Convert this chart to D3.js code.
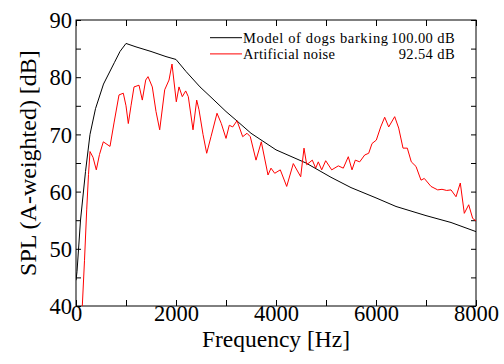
<!DOCTYPE html>
<html>
<head>
<meta charset="utf-8">
<script src="https://cdn.jsdelivr.net/npm/d3@7"></script>
<style>
  body { margin: 0; background: #fff; }
</style>
</head>
<body>
<div id="chart"></div>
<script>
// model of dogs barking (black)
var modelFreq = [0, 20, 90, 190, 280, 390, 550, 770, 880, 1000, 1200, 1500, 1800, 2000, 2200, 2480, 2700, 3000, 3200, 3500, 4000, 4600, 5100, 5500, 6000, 6400, 7000, 7500, 8000];
var modelDb = [44.5, 46, 55, 63.5, 70, 74.5, 78.8, 82.6, 84.5, 85.9, 85.3, 84.5, 83.6, 83.1, 81.0, 78.3, 76.5, 74.0, 72.5, 70.2, 67.3, 65.0, 62.5, 60.7, 58.9, 57.4, 55.8, 54.6, 53.0];

// artificial noise (red)
var noiseFreq = [126, 170, 214, 250, 280, 340, 406, 470, 546, 680, 760, 860, 946, 1000, 1046, 1100, 1160, 1260, 1326, 1394, 1440, 1526, 1600, 1674, 1774, 1860, 1920, 2006, 2060, 2126, 2194, 2246, 2340, 2414, 2460, 2540, 2614, 2700, 2820, 2906, 3000, 3066, 3134, 3220, 3334, 3420, 3486, 3600, 3706, 3840, 3900, 3974, 4086, 4214, 4346, 4494, 4560, 4614, 4726, 4794, 4846, 4914, 4994, 5114, 5246, 5346, 5446, 5520, 5586, 5674, 5774, 5854, 5920, 6006, 6094, 6174, 6254, 6374, 6454, 6540, 6626, 6706, 6800, 6900, 6966, 7100, 7234, 7320, 7414, 7500, 7600, 7686, 7766, 7854, 7934, 8000];
var noiseDb = [40, 48, 56.8, 63, 67.0, 66, 63.8, 66.5, 68.7, 67.9, 72, 76.9, 77.2, 75, 71.9, 75, 78.3, 78.6, 76.0, 79.5, 80.1, 78.3, 74, 70.8, 77.8, 79.5, 82.3, 75.7, 78.3, 76.6, 77.6, 76.6, 70.8, 76.0, 74.3, 70, 66.7, 69.6, 73.7, 71.9, 69.3, 71.6, 71.3, 72.4, 69.6, 70.2, 69.6, 65.5, 68.7, 62.9, 64.1, 63.2, 63.8, 60.9, 64.9, 62.6, 67.6, 64.7, 65.5, 64.1, 65.2, 63.8, 65.4, 63.8, 64.5, 64.1, 66.1, 63.8, 65.5, 65.2, 66.4, 66.7, 68.4, 69.0, 71.3, 73.0, 71.3, 73.1, 71.1, 67.6, 67.6, 65.2, 64.4, 62.0, 62.3, 60.9, 60.3, 60.4, 60.2, 60.3, 59.1, 61.5, 56.2, 57.7, 55.3, 54.9];

var xTicks = [0, 2000, 4000, 6000, 8000];
var xMinorTicks = [1000, 3000, 5000, 7000];
var yTicks = [40, 50, 60, 70, 80, 90];
var yMinorTicks = [45, 55, 65, 75, 85];

var legendLabels = ["Model of dogs barking", "Artificial noise"];
var legendValues = ["100.00 dB", "92.54 dB"];
var seriesColors = ["#000000", "#ff0000"];

var serif = "'Liberation Serif', 'Times New Roman', serif";

var margin = { top: 20, right: 28, bottom: 58, left: 76 },
  width = 504 - margin.left - margin.right,
  height = 364 - margin.top - margin.bottom;

var root = d3.select("#chart")
  .append("svg")
  .attr("width", 504)
  .attr("height", 364)
  .attr("font-family", serif);

var svg = root.append("g")
  .attr("transform", "translate(" + margin.left + "," + margin.top + ")");

var x = d3.scaleLinear().domain([0, 8000]).range([0, width]);
var y = d3.scaleLinear().domain([40, 90]).range([height, 0]);

svg.append("clipPath").attr("id", "plotclip")
  .append("rect").attr("width", width).attr("height", height);

// ticks, all pointing inward
function tickAxis(axis, vals, size, fmt) {
  return axis.tickValues(vals).tickSizeInner(-size).tickSizeOuter(0).tickPadding(3).tickFormat(fmt || "");
}

var gx = svg.append("g")
  .attr("transform", "translate(0," + height + ")")
  .call(tickAxis(d3.axisBottom(x), xTicks, 6, d3.format("d")));
svg.append("g")
  .attr("transform", "translate(0," + height + ")")
  .call(tickAxis(d3.axisBottom(x), xMinorTicks, 6));
svg.append("g").call(tickAxis(d3.axisTop(x), xTicks.concat(xMinorTicks), 6));

var gy = svg.append("g")
  .call(tickAxis(d3.axisLeft(y), yTicks, 5, d3.format("d")));
svg.append("g").call(tickAxis(d3.axisLeft(y), yMinorTicks, 5));
svg.append("g")
  .attr("transform", "translate(" + width + ",0)")
  .call(tickAxis(d3.axisRight(y), yTicks.concat(yMinorTicks), 5));

svg.selectAll(".domain").remove();
svg.selectAll("g").attr("font-family", serif);
svg.selectAll(".tick line").attr("stroke", "#000");
svg.selectAll(".tick text").attr("fill", "#000").style("font-family", serif);
gx.selectAll("text").style("font-size", "22.5px").attr("y", 0).attr("dy", "0.67em");
gy.selectAll("text").style("font-size", "22.5px").attr("dy", "0.34em").attr("x", -4);

svg.append("rect")
  .attr("width", width)
  .attr("height", height)
  .attr("fill", "none")
  .attr("stroke", "#000")
  .attr("stroke-width", 1);

var line = d3.line()
  .x(function (d) { return x(d[0]); })
  .y(function (d) { return y(d[1]); });

var series = [d3.zip(modelFreq, modelDb), d3.zip(noiseFreq, noiseDb)];

svg.append("g").attr("clip-path", "url(#plotclip)")
  .selectAll("path")
  .data(series)
  .enter()
  .append("path")
  .attr("d", line)
  .attr("fill", "none")
  .attr("stroke", function (d, i) { return seriesColors[i]; })
  .attr("stroke-width", 1);

// legend
var labelLen = [145, 92], valueLen = [63, 60];
var legend = svg.selectAll(".legend")
  .data(legendLabels)
  .enter()
  .append("g")
  .attr("class", "legend")
  .attr("transform", function (d, i) { return "translate(134," + (17.7 + i * 16.2) + ")"; });
legend.append("line")
  .attr("x1", 0).attr("x2", 32)
  .attr("stroke", function (d, i) { return seriesColors[i]; });
legend.append("text")
  .attr("x", 33).attr("y", 5)
  .attr("textLength", function (d, i) { return labelLen[i]; })
  .attr("lengthAdjust", "spacing")
  .style("font-family", serif)
  .style("font-size", "14.5px")
  .text(function (d) { return d; });
legend.append("text")
  .attr("x", 245).attr("y", 5)
  .attr("text-anchor", "end")
  .style("font-family", serif)
  .style("font-size", "14.5px")
  .style("letter-spacing", "0.4px")
  .text(function (d, i) { return legendValues[i]; });

// axis titles
root.append("text")
  .attr("x", margin.left + width / 2)
  .attr("y", 347)
  .attr("text-anchor", "middle")
  .style("font-family", serif)
  .style("font-size", "23.5px")
  .text("Frequency [Hz]");

root.append("text")
  .attr("transform", "translate(36," + (margin.top + height / 2) + ") rotate(-90)")
  .attr("text-anchor", "middle")
  .style("font-family", serif)
  .style("font-size", "24px")
  .text("SPL  (A-weighted) [dB]");
</script>
</body>
</html>
